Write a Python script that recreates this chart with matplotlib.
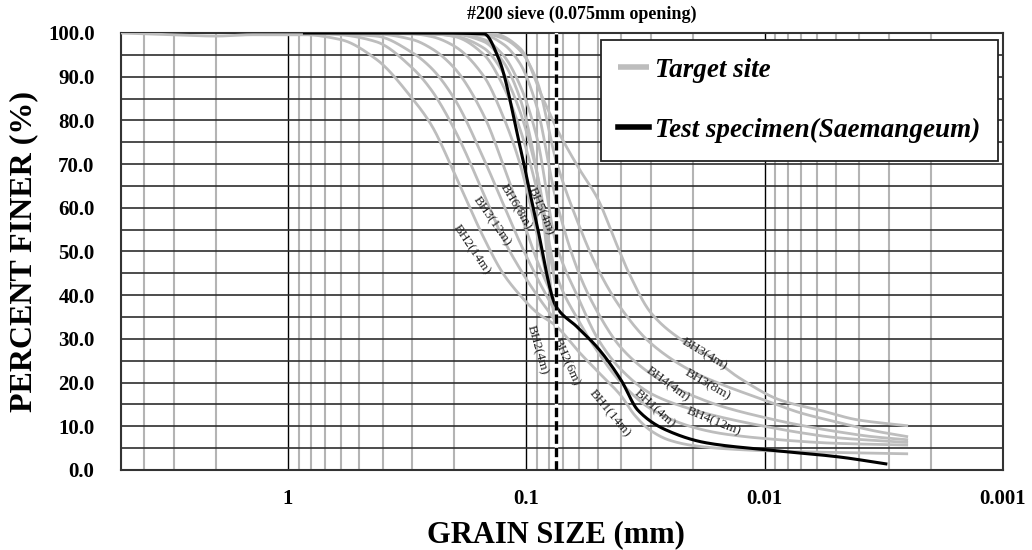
import numpy as np
import matplotlib
matplotlib.use("Agg")
import matplotlib.pyplot as plt
from matplotlib.ticker import FixedLocator, FixedFormatter, MultipleLocator, NullFormatter

plt.rcParams["font.family"] = ["Liberation Serif", "DejaVu Serif"]

# ----------------------------------------------------------------------
# data: grain size (mm) vs percent finer (%)
# ----------------------------------------------------------------------
test_size = [0.85, 0.425, 0.25, 0.15, 0.13, 0.106, 0.09, 0.075, 0.061, 0.050,
             0.040, 0.034, 0.026, 0.0175, 0.0098, 0.0049, 0.0031]
test_pass = [100, 100, 100, 99.8, 94, 74, 56, 37.5, 32.7, 27.9,
             20.6, 13.7, 9.2, 6.2, 4.6, 3.0, 1.4]

# sieve-only borings (end at #200)
bh2_14m_size = [0.85, 0.6, 0.425, 0.3, 0.25, 0.2, 0.15, 0.125, 0.106, 0.09, 0.075]
bh2_14m_pass = [100, 99.6, 98, 92, 87, 78, 63, 53, 46, 40, 34]
bh3_12m_size = [0.85, 0.425, 0.3, 0.25, 0.2, 0.15, 0.125, 0.106, 0.09, 0.075]
bh3_12m_pass = [100, 99.3, 95.5, 92, 85, 71, 61, 52, 44, 36]
bh6_8m_size = [0.85, 0.425, 0.3, 0.25, 0.2, 0.15, 0.125, 0.106, 0.09, 0.075]
bh6_8m_pass = [100, 99.8, 98.5, 96.5, 92, 81, 70, 59, 48, 38]
bh2_4m_size = [0.85, 0.3, 0.25, 0.2, 0.15, 0.125, 0.106, 0.09, 0.075]
bh2_4m_pass = [100, 99.8, 99.2, 97, 90, 81, 70, 54, 35]
bh5_4m_size = [0.85, 0.25, 0.2, 0.15, 0.125, 0.106, 0.09, 0.075]
bh5_4m_pass = [100, 99.8, 99.2, 95, 88, 78, 64, 42]
bh2_6m_size = [0.85, 0.2, 0.15, 0.125, 0.106, 0.09, 0.075]
bh2_6m_pass = [100, 99.7, 98, 93.5, 85, 68, 31]

# sieve + hydrometer borings
bh1_14m_size = [5.0, 3.0, 2.0, 1.4, 0.85, 0.6, 0.425, 0.3, 0.25, 0.2, 0.15, 0.125,
                0.106, 0.09, 0.075, 0.06, 0.05, 0.04, 0.035, 0.03, 0.025, 0.02,
                0.015, 0.01, 0.005, 0.0025]
bh1_14m_pass = [100, 99.6, 99.3, 99.6, 99.6, 98.5, 94, 85, 79, 68, 53, 45,
                40, 36, 33, 27, 22.5, 17, 12.5, 9, 6.8, 5.6,
                4.9, 4.4, 4.0, 3.7]
bh1_4m_size = [0.85, 0.25, 0.2, 0.15, 0.125, 0.106, 0.09, 0.075, 0.06, 0.05, 0.04,
               0.03, 0.02, 0.015, 0.01, 0.005, 0.0025]
bh1_4m_pass = [100, 99.8, 99.3, 96.5, 91, 82, 68, 45, 34, 27, 20,
               14, 9.8, 8.3, 7.2, 6.1, 5.7]
bh4_12m_size = [0.85, 0.2, 0.15, 0.125, 0.106, 0.09, 0.075, 0.06, 0.05, 0.04, 0.03,
                0.02, 0.015, 0.01, 0.007, 0.005, 0.0025]
bh4_12m_pass = [100, 99.8, 98.5, 95, 88, 76, 52, 39, 30, 23, 17.5,
                13.8, 12, 10, 8.5, 7.4, 6.3]
bh4_4m_size = [0.85, 0.15, 0.125, 0.106, 0.09, 0.075, 0.06, 0.05, 0.04, 0.03, 0.025,
               0.02, 0.015, 0.01, 0.007, 0.005, 0.0035, 0.0025]
bh4_4m_pass = [100, 99.5, 97.5, 93, 83, 62, 45, 36, 28, 22, 19.5,
               17, 14.5, 12, 10.2, 8.8, 7.6, 6.9]
bh3_8m_size = [0.85, 0.15, 0.125, 0.106, 0.09, 0.075, 0.06, 0.05, 0.04, 0.03, 0.02,
               0.015, 0.01, 0.007, 0.005, 0.0035, 0.0025]
bh3_8m_pass = [100, 99.8, 98.8, 96, 89, 71, 56, 46, 37, 29, 22.5,
               19.5, 16, 13, 11, 9, 7.6]
bh3_4m_size = [0.85, 0.15, 0.135, 0.106, 0.085, 0.075, 0.06, 0.05, 0.042, 0.037, 0.03,
               0.0226, 0.017, 0.0127, 0.0086, 0.0057, 0.0041, 0.0025]
bh3_4m_pass = [100, 100, 99.8, 96.5, 85, 78.5, 69, 62, 52, 45, 36,
               30, 26, 21, 16, 13.5, 11.5, 10.1]

site_curves = [
    (bh1_14m_size, bh1_14m_pass), (bh2_14m_size, bh2_14m_pass),
    (bh3_12m_size, bh3_12m_pass), (bh6_8m_size, bh6_8m_pass),
    (bh2_4m_size, bh2_4m_pass), (bh5_4m_size, bh5_4m_pass),
    (bh2_6m_size, bh2_6m_pass), (bh1_4m_size, bh1_4m_pass),
    (bh4_12m_size, bh4_12m_pass), (bh4_4m_size, bh4_4m_pass),
    (bh3_8m_size, bh3_8m_pass), (bh3_4m_size, bh3_4m_pass),
]

# curve labels: text, grain size, percent, rotation
label_text = ["BH6(8m)", "BH5(4m)", "BH3(12m)", "BH2(14m)", "BH2(4m)", "BH2(6m)",
              "BH1(14m)", "BH1(4m)", "BH4(4m)", "BH3(8m)", "BH3(4m)", "BH4(12m)"]
label_size = [0.111, 0.0866, 0.139, 0.170, 0.090, 0.068,
              0.0445, 0.0289, 0.0255, 0.0173, 0.0178, 0.0163]
label_pass = [60.2, 59.3, 56.8, 50.3, 27.5, 24.7,
              13.0, 14.0, 19.5, 19.5, 26.5, 11.1]
label_rot = [-59, -67, -55, -56, -74, -66, -50, -42, -36, -30, -31, -22]

sieve_200 = 0.075


def smooth(size, passing, n=30):
    # monotone cubic (Fritsch-Carlson) through the points, in log(size)
    x = -np.log10(np.asarray(size, float))
    y = np.asarray(passing, float)
    h = np.diff(x)
    d = np.diff(y) / h
    m = np.zeros_like(y)
    m[0], m[-1] = d[0], d[-1]
    for k in range(1, len(y) - 1):
        if d[k - 1] * d[k] <= 0:
            m[k] = 0.0
        else:
            w1 = 2 * h[k] + h[k - 1]
            w2 = h[k] + 2 * h[k - 1]
            m[k] = (w1 + w2) / (w1 / d[k - 1] + w2 / d[k])
    xs, ys = [], []
    for k in range(len(h)):
        t = np.linspace(0, 1, n, endpoint=(k == len(h) - 1))
        h00 = 2 * t**3 - 3 * t**2 + 1
        h10 = t**3 - 2 * t**2 + t
        h01 = -2 * t**3 + 3 * t**2
        h11 = t**3 - t**2
        xs.append(x[k] + t * h[k])
        ys.append(h00 * y[k] + h10 * h[k] * m[k] + h01 * y[k + 1] + h11 * h[k] * m[k + 1])
    return 10 ** (-np.concatenate(xs)), np.concatenate(ys)


fig = plt.figure(figsize=(10.32, 5.5), dpi=100)
ax = fig.add_axes([0.1172, 0.1455, 0.8547, 0.7945])

ax.set_xscale("log")
ax.set_xlim(5, 0.001)
ax.set_ylim(0, 100)

ax.xaxis.set_major_locator(FixedLocator([1, 0.1, 0.01, 0.001]))
ax.xaxis.set_major_formatter(FixedFormatter(["1", "0.1", "0.01", "0.001"]))
ax.xaxis.set_minor_formatter(NullFormatter())
ax.yaxis.set_major_locator(MultipleLocator(10))
ax.yaxis.set_minor_locator(MultipleLocator(5))
ax.yaxis.set_major_formatter(lambda v, pos: f"{v:.1f}")

ax.grid(True, axis="x", which="major", color="black", lw=1.0)
ax.grid(True, axis="x", which="minor", color="#b4b4b4", lw=1.5)
ax.grid(True, axis="y", which="both", color="#2e2e2e", lw=1.2)
ax.set_axisbelow(True)
ax.tick_params(which="both", length=0)
ax.tick_params(axis="y", pad=19, labelsize=15)
ax.tick_params(axis="x", pad=14, labelsize=15)
for lab in ax.get_xticklabels() + ax.get_yticklabels():
    lab.set_fontweight("bold")
for s in ax.spines.values():
    s.set_color("#333333")
    s.set_linewidth(1.5)

for i, (sz, ps) in enumerate(site_curves):
    xs, ys = smooth(sz, ps)
    ax.plot(xs, ys, color="#bdbdbd", lw=2.0, solid_capstyle="butt", zorder=3,
            label="Target site" if i == 0 else None)

xs, ys = smooth(test_size, test_pass)
ax.plot(xs, ys, color="black", lw=2.2, zorder=5, label="Test specimen(Saemangeum)")

ax.axvline(sieve_200, color="white", lw=2.4, zorder=6)
ax.axvline(sieve_200, color="black", lw=2.4, dashes=(2.8, 1.2), zorder=7)

for t, sz, ps, r in zip(label_text, label_size, label_pass, label_rot):
    ax.text(sz, ps, t, rotation=r, ha="center", va="center", fontsize=9.5,
            color="#222222", zorder=4, rotation_mode="anchor")

leg = ax.legend(loc="upper right", bbox_to_anchor=(0.994, 0.984), borderaxespad=0,
                fancybox=False, framealpha=1, edgecolor="#222222",
                prop={"family": "Liberation Serif", "weight": "bold",
                      "style": "italic", "size": 19.5},
                handlelength=1.15, handletextpad=0.2, labelspacing=1.3,
                borderpad=0.65)
leg.get_frame().set_linewidth(1.3)
for h in leg.legend_handles:
    h.set_linewidth(4)

ax.set_xlabel("GRAIN SIZE (mm)", fontsize=22, fontweight="bold")
ax.set_ylabel("PERCENT FINER (%)", fontsize=23, fontweight="bold")
ax.xaxis.set_label_coords(0.493, -0.116)
ax.yaxis.set_label_coords(-0.094, 0.5)

fig.text(582 / 1032, 1 - 14 / 550, "#200 sieve (0.075mm opening)", ha="center",
         va="center", fontsize=13, fontweight="bold")

fig.savefig("out.png", dpi=100)
